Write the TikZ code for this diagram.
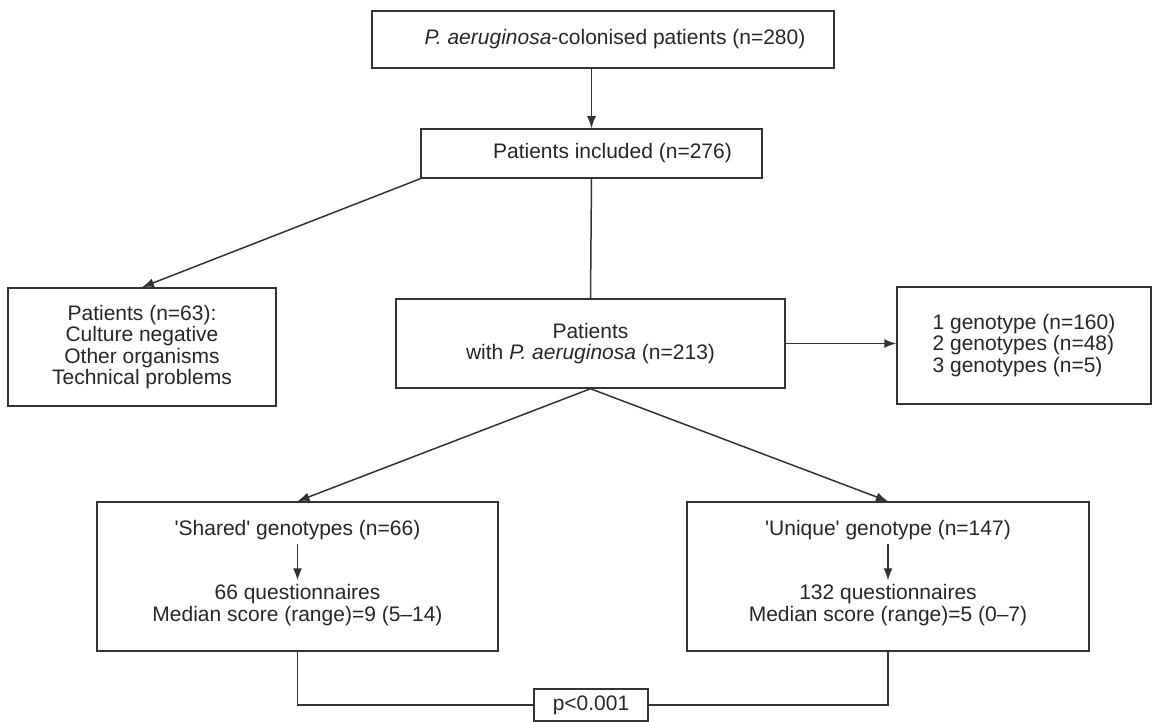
\documentclass[tikz,border=0pt]{standalone}
\usepackage{fontspec}
\setmainfont{Liberation Sans}
\usetikzlibrary{arrows.meta}
\begin{document}
\begin{tikzpicture}[x=1pt, y=-1pt, line width=1.5pt,
        every node/.style={font=\fontsize{21}{21.5}\selectfont, text=black!85, align=center},
        flowbox/.style={draw=black!80, inner sep=0pt},
        arr/.style={draw=black!80, -{Latex[length=12pt,width=9pt]}}]
            \useasboundingbox (0,0) rectangle (1152,722);
            \def \bh {149pt}
            \node[flowbox, minimum width=462pt, minimum height=57pt] (top) at (603,39.5) {\hspace*{24pt}\textit{P. aeruginosa}-colonised patients (n=280)};
            \node[flowbox, minimum width=341pt, minimum height=49pt] (incl) at (591.5,153.5) {\hspace*{42pt}Patients included (n=276)};
            \node[flowbox, minimum width=389pt, minimum height=89pt] (pae) at (590.5,343.5) {Patients\\with \textit{P. aeruginosa} (n=213)};
            \node[flowbox, minimum width=268pt, minimum height=118pt] (excl) at (142,347) {Patients (n=63):\\Culture negative\\Other organisms\\Technical problems};
            \node[flowbox, minimum width=254pt, minimum height=117pt, align=left] (geno) at (1024,345.5) {1 genotype (n=160)\\2 genotypes (n=48)\\3 genotypes (n=5)};
            \node[flowbox, minimum width=401pt, minimum height=\bh] (shared) at (297.5,576.5) {};
            \node[flowbox, minimum width=402pt, minimum height=\bh] (unique) at (888,576.5) {};
            \node[flowbox, minimum width=114pt, minimum height=32pt] (pval) at (591,705) {p<0.001};
            \node (sharedtop) at (297.5,530) {\textquotesingle Shared\textquotesingle{} genotypes (n=66)};
            \node (sharedq) at (297.5,605) {66 questionnaires\\Median score (range)=9 (5--14)};
            \node (uniquetop) at (888,530) {\textquotesingle Unique\textquotesingle{} genotype (n=147)};
            \node (uniqueq) at (888,605) {132 questionnaires\\Median score (range)=5 (0--7)};
            \draw[arr] (incl.north |- top.south) -- (incl.north);
            \draw[draw=black!80] (incl.south) -- (pae.north);
            \draw[arr] (incl.south west) -- (excl.north);
            \draw[arr] (pae.east) -- (pae.east -| geno.west);
            \draw[arr] (pae.south) -- (shared.north);
            \draw[arr] (pae.south) -- (unique.north);
            \draw[arr] (sharedtop) -- (sharedq);
            \draw[arr] (uniquetop) -- (uniqueq);
            \draw[draw=black!80] (shared.south) |- (pval.west);
            \draw[draw=black!80] (pval.east) -| (unique.south);
            % \draw[arr] (incl.south) -- (pae.north);
        \end{tikzpicture}
\end{document}
